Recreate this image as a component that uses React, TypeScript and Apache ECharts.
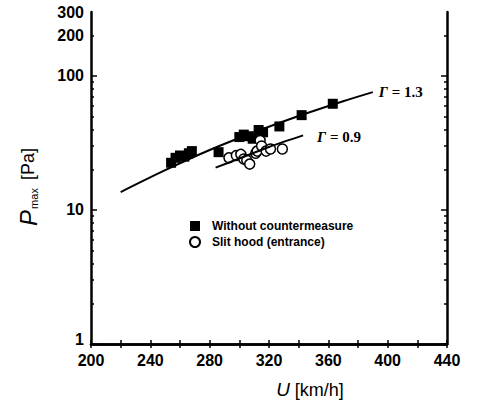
import React, { useEffect, useRef } from "react";
import * as echarts from "echarts";

// Axis ranges and ticks
const X_MIN = 200;
const X_MAX = 440;
const X_TICK_STEP = 20;
const X_LABEL_STEP = 40;
const Y_MIN = 1;
const Y_MAX = 300;
const Y_LABELS = [1, 10, 100, 200, 300];
const Y_MAJOR_TICKS = [1, 10, 100];
const Y_MINOR_TICKS = [2, 3, 4, 5, 6, 7, 8, 9, 20, 30, 40, 50, 60, 70, 80, 90, 200];

// Without countermeasure (filled squares)
const SQ_U = [254, 257, 260, 263, 266, 268, 286, 300, 303, 306, 309, 313, 316, 327, 342, 363];
const SQ_P = [22.5, 24.5, 25.5, 25, 26.5, 27.5, 27, 35, 36.5, 35.5, 34, 39.5, 38, 42, 51, 62];

// Slit hood (entrance) (open circles)
const CI_U = [293, 298, 301, 303, 305, 307, 311, 312, 314, 315, 318, 321, 329];
const CI_P = [24.5, 25.5, 26, 24, 23.5, 22, 26.5, 27.5, 33, 30, 27.5, 28.5, 28.5];

// Fitted curves
const G13_U = [220, 250, 280, 310, 340, 370, 390];
const G13_P = [13.6, 19.8, 28.0, 38.0, 50.2, 64.7, 75.7];
const G09_U = [284, 300, 320, 343];
const G09_P = [20.7, 24.2, 29.5, 36.0];

const lg = (v: number) => Math.log10(v);
const toPts = (us: number[], ps: number[]) => us.map((u, i) => [u, lg(ps[i])]);

const SANS = "Liberation Sans";
const SERIF = "Liberation Serif";

export default function App() {
  const ref = useRef<HTMLDivElement>(null);
  useEffect(() => {
    if (!ref.current) return;
    const chart = echarts.init(ref.current, null, { renderer: "svg" });
    const yBase = {
      type: "value" as const,
      min: lg(Y_MIN),
      max: lg(Y_MAX),
      splitLine: { show: false },
    };
    const axisLine = { show: true, lineStyle: { color: "#000", width: 2.5 } };
    chart.setOption({
      animation: false,
      backgroundColor: "#fff",
      grid: { left: 91, right: 31, top: 12, bottom: 61, containLabel: false },
      legend: {
        orient: "vertical",
        left: 184,
        top: 215,
        itemWidth: 10,
        itemHeight: 10,
        itemGap: 4,
        data: ["Without countermeasure", "Slit hood (entrance)"],
        textStyle: {
          fontFamily: SANS,
          fontWeight: "bold",
          fontSize: 12,
          color: "#000",
          padding: [0, 0, 0, 7],
        },
      },
      xAxis: [
        {
          type: "value",
          position: "bottom",
          min: X_MIN,
          max: X_MAX,
          interval: X_TICK_STEP,
          axisLine,
          axisTick: { inside: true, length: 4, lineStyle: { color: "#000", width: 1.5 } },
          axisLabel: {
            color: "#000",
            fontFamily: SANS,
            fontWeight: "bold",
            fontSize: 16,
            margin: 8,
            formatter: (v: number) => ((v - X_MIN) % X_LABEL_STEP === 0 ? String(v) : ""),
          },
          splitLine: { show: false },
          name: "{u|U} [km/h]",
          nameLocation: "middle",
          nameGap: 36,
          nameTextStyle: {
            color: "#000",
            fontFamily: SANS,
            fontSize: 18,
            padding: [0, 0, 0, 82],
            rich: { u: { fontStyle: "italic", fontFamily: SANS, fontSize: 19, color: "#000" } },
          },
        },
        {
          type: "value",
          position: "top",
          min: X_MIN,
          max: X_MAX,
          interval: X_TICK_STEP,
          axisLine,
          axisTick: { inside: true, length: 4, lineStyle: { color: "#000", width: 1.5 } },
          axisLabel: { show: false },
          splitLine: { show: false },
        },
      ],
      yAxis: [
        {
          ...yBase,
          position: "left",
          axisLine,
          axisTick: {
            inside: true,
            length: 6,
            customValues: Y_MAJOR_TICKS.map(lg),
            lineStyle: { color: "#000", width: 1.5 },
          },
          axisLabel: {
            customValues: Y_LABELS.map(lg),
            formatter: (v: number) => {
              const s = String(Math.round(Math.pow(10, v)));
              return v === lg(Y_MIN) ? `{low|${s}}` : s;
            },
            rich: {
              low: {
                fontFamily: SANS,
                fontWeight: "bold",
                fontSize: 16,
                color: "#000",
                padding: [0, 0, 10, 0],
              },
            },
            color: "#000",
            fontFamily: SANS,
            fontWeight: "bold",
            fontSize: 16,
            margin: 7,
          },
          name: "{p|P}{s|max} [Pa]",
          nameLocation: "middle",
          nameGap: 50,
          nameRotate: 90,
          nameTextStyle: {
            color: "#000",
            fontFamily: SANS,
            fontSize: 18,
            padding: [0, 0, 0, -18],
            rich: {
              p: { fontStyle: "italic", fontFamily: SANS, fontSize: 24, color: "#000", lineHeight: 26 },
              s: { fontFamily: SANS, fontSize: 11, color: "#000", padding: [12, 3, 0, 1] },
            },
          },
        },
        {
          ...yBase,
          position: "left",
          axisLine: { show: false },
          axisTick: {
            inside: true,
            length: 3,
            customValues: Y_MINOR_TICKS.map(lg),
            lineStyle: { color: "#000", width: 1.5 },
          },
          axisLabel: { show: false },
        },
        {
          ...yBase,
          position: "right",
          axisLine,
          axisTick: {
            inside: true,
            length: 6,
            customValues: Y_MAJOR_TICKS.map(lg),
            lineStyle: { color: "#000", width: 1.5 },
          },
          axisLabel: { show: false },
        },
        {
          ...yBase,
          position: "right",
          axisLine: { show: false },
          axisTick: {
            inside: true,
            length: 3,
            customValues: Y_MINOR_TICKS.map(lg),
            lineStyle: { color: "#000", width: 1.5 },
          },
          axisLabel: { show: false },
        },
      ],
      series: [
        {
          name: "Γ = 1.3",
          type: "line",
          data: toPts(G13_U, G13_P),
          smooth: 0.3,
          showSymbol: false,
          lineStyle: { color: "#000", width: 2 },
          endLabel: {
            show: true,
            distance: 6,
            formatter: "{g|Γ} = 1.3",
            color: "#000",
            fontFamily: SERIF,
            fontWeight: "bold",
            fontSize: 15,
            rich: { g: { fontStyle: "italic", fontFamily: SERIF, fontWeight: "bold", fontSize: 15, color: "#000" } },
          },
        },
        {
          name: "Γ = 0.9",
          type: "line",
          data: toPts(G09_U, G09_P),
          smooth: 0.3,
          showSymbol: false,
          lineStyle: { color: "#000", width: 2 },
          endLabel: {
            show: true,
            distance: 14,
            offset: [0, 2],
            formatter: "{g|Γ} = 0.9",
            color: "#000",
            fontFamily: SERIF,
            fontWeight: "bold",
            fontSize: 15,
            rich: { g: { fontStyle: "italic", fontFamily: SERIF, fontWeight: "bold", fontSize: 15, color: "#000" } },
          },
        },
        {
          name: "Without countermeasure",
          type: "scatter",
          symbol: "rect",
          symbolSize: 10,
          data: toPts(SQ_U, SQ_P),
          itemStyle: { color: "#000", opacity: 1 },
        },
        {
          name: "Slit hood (entrance)",
          type: "scatter",
          symbol: "circle",
          symbolSize: 10,
          data: toPts(CI_U, CI_P),
          itemStyle: { color: "#fff", borderColor: "#000", borderWidth: 1.5, opacity: 1 },
        },
      ],
    });
    return () => chart.dispose();
  }, []);
  return (
    <div
      ref={ref}
      style={{ position: "fixed", left: 0, top: 0, width: 478, height: 405, background: "#fff" }}
    />
  );
}
